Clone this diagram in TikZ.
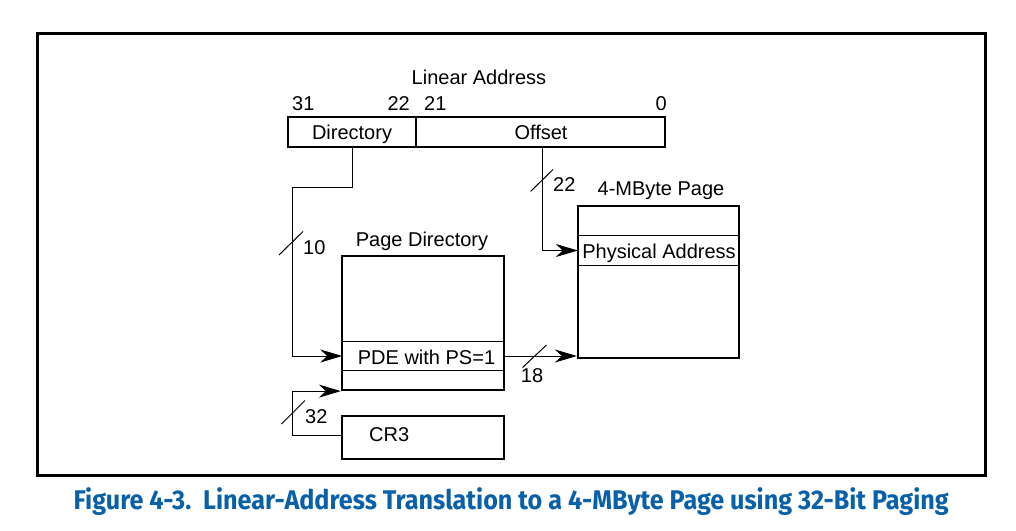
\documentclass[tikz,border=0pt]{standalone}
\usepackage{fontspec}
\setmainfont{Liberation Sans}
\newfontfamily\capfont{Fira Sans}
\usetikzlibrary{arrows.meta}
\definecolor{capblue}{HTML}{0860A8}
\begin{document}
\begin{tikzpicture}[x=1pt,y=-1pt,
  box/.style={draw,line width=2.2pt,inner sep=0pt,minimum width=#1},
  row/.style={inner sep=0pt,minimum width=161pt},
  conn/.style={line width=1pt},
  arr/.style={conn,-{Stealth[length=22pt,width=13pt,inset=7pt]}},
  slash/.style={line width=1pt},
  lbl/.style={inner sep=0pt,anchor=base,font=\fontsize{20pt}{24pt}\selectfont},
  lblw/.style={lbl,anchor=base west},
  lble/.style={lbl,anchor=base east}]
\useasboundingbox (0,0) rectangle (1016,530);
\node[draw,line width=3pt,minimum width=948pt,minimum height=442pt,inner sep=0pt] (frame) at (511,254) {};

% linear address
\node[box=128pt,minimum height=30pt] (dirfield) at (352,132) {};
\node[box=249pt,minimum height=30pt] (offfield) at (540.5,132) {};
\node[lbl] (la) at (479,84) {Linear Address};
\node[lblw] (b31) at (292,110) {31};
\node[lble] (b22) at (410,110) {22};
\node[lblw] (b21) at (424,110) {21};
\node[lble] (b0) at (667,110) {0};
\node[lbl] (tdir) at (352,139) {Directory};
\node[lbl] (toff) at (541,139) {Offset};

% page directory
\node[box=162pt,minimum height=134pt] (pd) at (423,323) {};
\node[row,minimum height=28pt] (pdrow) at (423,356) {};
\draw[conn] (pdrow.north -| pd.west) -- (pdrow.north -| pd.east);
\draw[conn] (pdrow.south -| pd.west) -- (pdrow.south -| pd.east);
\node[lbl] (tpd) at (422,246) {Page Directory};
\node[lbl] (tpde) at (426.5,364) {PDE with PS=1};

% 4-MByte page
\node[box=161pt,minimum height=152pt] (page) at (658.5,282) {};
\node[row,minimum height=29pt] (parow) at (658.5,250.5) {};
\draw[conn] (parow.north -| page.west) -- (parow.north -| page.east);
\draw[conn] (parow.south -| page.west) -- (parow.south -| page.east);
\node[lbl] (tpage) at (661,195.5) {4-MByte Page};
\node[lbl] (tpa) at (659,258.5) {Physical Address};

% CR3
\node[box=162pt,minimum height=43pt] (cr3) at (423,437.5) {};
\node[lblw] (tcr3) at (369,441) {CR3};

% connectors
\coordinate (j1) at (292,187);
\coordinate (j2) at (292,435);
\draw[arr] (dirfield.south) |- (j1) |- (pdrow.west);
\draw[arr] (offfield.south -| 542,0) |- (parow.west);
\draw[arr] (pdrow.east) -- (pdrow.east -| page.west);
\draw[arr] (cr3.west |- j2) -- (j2) |- (pd.south west);

% slashes and widths
\draw[slash] (279,255) -- (303,231.5);
\node[lblw] (w10) at (303,254) {10};
\draw[slash] (530.5,191.5) -- (553,169.5);
\node[lblw] (w22) at (553,191.5) {22};
\draw[slash] (522.5,367.5) -- (546.5,345);
\node[lbl] (w18) at (532,382.5) {18};
\draw[slash] (281.5,424) -- (305,400.5);
\node[lblw] (w32) at (305,423) {32};

% caption
\node[inner sep=0pt,anchor=base west,text=capblue] (cap) at (73.5,509)
  {\resizebox{875pt}{\height}{\capfont\bfseries\fontsize{27pt}{30pt}\selectfont Figure 4-3.\ \ Linear-Address Translation to a 4-MByte Page using 32-Bit Paging}};
\end{tikzpicture}
\end{document}
